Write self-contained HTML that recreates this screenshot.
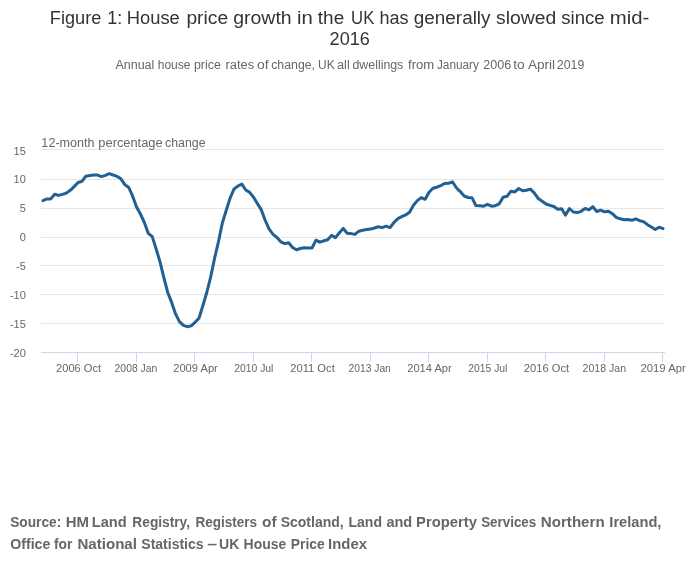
<!DOCTYPE html>
<html><head><meta charset="utf-8"><style>
html,body{margin:0;padding:0;background:#fff;width:700px;height:574px;overflow:hidden}
svg{display:block;font-family:"Liberation Sans", sans-serif;will-change:transform}
</style></head><body>
<svg width="700" height="574" viewBox="0 0 700 574">
<rect width="700" height="574" fill="#ffffff"/>
<path d="M41 149.5H665" stroke="#e6e6e6" stroke-width="1" fill="none"/>
<path d="M41 179.5H665" stroke="#e6e6e6" stroke-width="1" fill="none"/>
<path d="M41 208.5H665" stroke="#e6e6e6" stroke-width="1" fill="none"/>
<path d="M41 237.5H665" stroke="#e6e6e6" stroke-width="1" fill="none"/>
<path d="M41 265.5H665" stroke="#e6e6e6" stroke-width="1" fill="none"/>
<path d="M41 294.5H665" stroke="#e6e6e6" stroke-width="1" fill="none"/>
<path d="M41 323.5H665" stroke="#e6e6e6" stroke-width="1" fill="none"/>
<path d="M41 352.5H665" stroke="#ccd6eb" stroke-width="1" fill="none"/>
<path d="M77.5 352.5V362" stroke="#ccd6eb" stroke-width="1" fill="none"/>
<path d="M136.5 352.5V362" stroke="#ccd6eb" stroke-width="1" fill="none"/>
<path d="M194.5 352.5V362" stroke="#ccd6eb" stroke-width="1" fill="none"/>
<path d="M253.5 352.5V362" stroke="#ccd6eb" stroke-width="1" fill="none"/>
<path d="M311.5 352.5V362" stroke="#ccd6eb" stroke-width="1" fill="none"/>
<path d="M370.5 352.5V362" stroke="#ccd6eb" stroke-width="1" fill="none"/>
<path d="M428.5 352.5V362" stroke="#ccd6eb" stroke-width="1" fill="none"/>
<path d="M487.5 352.5V362" stroke="#ccd6eb" stroke-width="1" fill="none"/>
<path d="M545.5 352.5V362" stroke="#ccd6eb" stroke-width="1" fill="none"/>
<path d="M604.5 352.5V362" stroke="#ccd6eb" stroke-width="1" fill="none"/>
<path d="M662.5 352.5V362" stroke="#ccd6eb" stroke-width="1" fill="none"/>
<text id="title1_w0" x="49.82" y="24" font-size="18" fill="#333333" textLength="51.48" lengthAdjust="spacingAndGlyphs">Figure</text>
<text id="title1_w1" x="107.15" y="24" font-size="18" fill="#333333" textLength="15.02" lengthAdjust="spacingAndGlyphs">1:</text>
<text id="title1_w2" x="126.85" y="24" font-size="18" fill="#333333" textLength="52.93" lengthAdjust="spacingAndGlyphs">House</text>
<text id="title1_w3" x="186.40" y="24" font-size="18" fill="#333333" textLength="41.72" lengthAdjust="spacingAndGlyphs">price</text>
<text id="title1_w4" x="233.15" y="24" font-size="18" fill="#333333" textLength="58.53" lengthAdjust="spacingAndGlyphs">growth</text>
<text id="title1_w5" x="297.10" y="24" font-size="18" fill="#333333" textLength="15.82" lengthAdjust="spacingAndGlyphs">in</text>
<text id="title1_w6" x="317.82" y="24" font-size="18" fill="#333333" textLength="26.38" lengthAdjust="spacingAndGlyphs">the</text>
<text id="title1_w7" x="351.10" y="24" font-size="18" fill="#333333" textLength="23.22" lengthAdjust="spacingAndGlyphs">UK</text>
<text id="title1_w8" x="379.50" y="24" font-size="18" fill="#333333" textLength="29.03" lengthAdjust="spacingAndGlyphs">has</text>
<text id="title1_w9" x="413.85" y="24" font-size="18" fill="#333333" textLength="76.65" lengthAdjust="spacingAndGlyphs">generally</text>
<text id="title1_w10" x="496.12" y="24" font-size="18" fill="#333333" textLength="60.08" lengthAdjust="spacingAndGlyphs">slowed</text>
<text id="title1_w11" x="561.22" y="24" font-size="18" fill="#333333" textLength="43.38" lengthAdjust="spacingAndGlyphs">since</text>
<text id="title1_w12" x="609.80" y="24" font-size="18" fill="#333333" textLength="39.50" lengthAdjust="spacingAndGlyphs">mid-</text>
<text id="title2" x="329.60" y="44.7" font-size="18" fill="#333333" textLength="40.26" lengthAdjust="spacingAndGlyphs">2016</text>
<text id="subtitle_w0" x="115.48" y="68.9" font-size="12" fill="#666666" textLength="38.82" lengthAdjust="spacingAndGlyphs">Annual</text>
<text id="subtitle_w1" x="157.76" y="68.9" font-size="12" fill="#666666" textLength="32.70" lengthAdjust="spacingAndGlyphs">house</text>
<text id="subtitle_w2" x="193.97" y="68.9" font-size="12" fill="#666666" textLength="26.92" lengthAdjust="spacingAndGlyphs">price</text>
<text id="subtitle_w3" x="225.43" y="68.9" font-size="12" fill="#666666" textLength="28.67" lengthAdjust="spacingAndGlyphs">rates</text>
<text id="subtitle_w4" x="256.91" y="68.9" font-size="12" fill="#666666" textLength="11.64" lengthAdjust="spacingAndGlyphs">of</text>
<text id="subtitle_w5" x="271.22" y="68.9" font-size="12" fill="#666666" textLength="43.78" lengthAdjust="spacingAndGlyphs">change,</text>
<text id="subtitle_w6" x="318.10" y="68.9" font-size="12" fill="#666666" textLength="16.67" lengthAdjust="spacingAndGlyphs">UK</text>
<text id="subtitle_w7" x="337.04" y="68.9" font-size="12" fill="#666666" textLength="12.74" lengthAdjust="spacingAndGlyphs">all</text>
<text id="subtitle_w8" x="352.50" y="68.9" font-size="12" fill="#666666" textLength="50.80" lengthAdjust="spacingAndGlyphs">dwellings</text>
<text id="subtitle_w9" x="408.10" y="68.9" font-size="12" fill="#666666" textLength="26.16" lengthAdjust="spacingAndGlyphs">from</text>
<text id="subtitle_w10" x="436.98" y="68.9" font-size="12" fill="#666666" textLength="41.98" lengthAdjust="spacingAndGlyphs">January</text>
<text id="subtitle_w11" x="483.31" y="68.9" font-size="12" fill="#666666" textLength="27.96" lengthAdjust="spacingAndGlyphs">2006</text>
<text id="subtitle_w12" x="513.16" y="68.9" font-size="12" fill="#666666" textLength="11.46" lengthAdjust="spacingAndGlyphs">to</text>
<text id="subtitle_w13" x="527.90" y="68.9" font-size="12" fill="#666666" textLength="27.26" lengthAdjust="spacingAndGlyphs">April</text>
<text id="subtitle_w14" x="556.88" y="68.9" font-size="12" fill="#666666" textLength="27.42" lengthAdjust="spacingAndGlyphs">2019</text>
<text id="ytitle_w0" x="41.38" y="146.9" font-size="12" fill="#666666" textLength="53.22" lengthAdjust="spacingAndGlyphs">12-month</text>
<text id="ytitle_w1" x="98.37" y="146.9" font-size="12" fill="#666666" textLength="64.19" lengthAdjust="spacingAndGlyphs">percentage</text>
<text id="ytitle_w2" x="165.06" y="146.9" font-size="12" fill="#666666" textLength="40.46" lengthAdjust="spacingAndGlyphs">change</text>
<text id="y15" x="25.80" y="154.5" font-size="11" fill="#666666" text-anchor="end">15</text>
<text id="y10" x="25.80" y="182.5" font-size="11" fill="#666666" text-anchor="end">10</text>
<text id="y5" x="25.80" y="211.5" font-size="11" fill="#666666" text-anchor="end">5</text>
<text id="y0" x="25.80" y="240.5" font-size="11" fill="#666666" text-anchor="end">0</text>
<text id="y-5" x="25.80" y="269.5" font-size="11" fill="#666666" text-anchor="end">-5</text>
<text id="y-10" x="25.80" y="298.5" font-size="11" fill="#666666" text-anchor="end">-10</text>
<text id="y-15" x="25.80" y="327.5" font-size="11" fill="#666666" text-anchor="end">-15</text>
<text id="y-20" x="25.80" y="356.5" font-size="11" fill="#666666" text-anchor="end">-20</text>
<text id="x2006_Oct" x="78.59" y="371.7" font-size="11" fill="#666666" text-anchor="middle" textLength="45.00" lengthAdjust="spacingAndGlyphs">2006 Oct</text>
<text id="x2008_Jan" x="135.97" y="371.7" font-size="11" fill="#666666" text-anchor="middle" textLength="42.75" lengthAdjust="spacingAndGlyphs">2008 Jan</text>
<text id="x2009_Apr" x="195.50" y="371.7" font-size="11" fill="#666666" text-anchor="middle" textLength="44.59" lengthAdjust="spacingAndGlyphs">2009 Apr</text>
<text id="x2010_Jul" x="253.82" y="371.7" font-size="11" fill="#666666" text-anchor="middle" textLength="39.16" lengthAdjust="spacingAndGlyphs">2010 Jul</text>
<text id="x2011_Oct" x="312.50" y="371.7" font-size="11" fill="#666666" text-anchor="middle" textLength="44.55" lengthAdjust="spacingAndGlyphs">2011 Oct</text>
<text id="x2013_Jan" x="369.70" y="371.7" font-size="11" fill="#666666" text-anchor="middle" textLength="42.21" lengthAdjust="spacingAndGlyphs">2013 Jan</text>
<text id="x2014_Apr" x="429.46" y="371.7" font-size="11" fill="#666666" text-anchor="middle" textLength="44.50" lengthAdjust="spacingAndGlyphs">2014 Apr</text>
<text id="x2015_Jul" x="487.82" y="371.7" font-size="11" fill="#666666" text-anchor="middle" textLength="39.16" lengthAdjust="spacingAndGlyphs">2015 Jul</text>
<text id="x2016_Oct" x="546.50" y="371.7" font-size="11" fill="#666666" text-anchor="middle" textLength="45.36" lengthAdjust="spacingAndGlyphs">2016 Oct</text>
<text id="x2018_Jan" x="604.33" y="371.7" font-size="11" fill="#666666" text-anchor="middle" textLength="43.47" lengthAdjust="spacingAndGlyphs">2018 Jan</text>
<text id="x2019_Apr" x="663.14" y="371.7" font-size="11" fill="#666666" text-anchor="middle" textLength="45.31" lengthAdjust="spacingAndGlyphs">2019 Apr</text>
<text id="src1_w0" x="10.15" y="526.9" font-size="14" fill="#666666" font-weight="bold" textLength="51.17" lengthAdjust="spacingAndGlyphs">Source:</text>
<text id="src1_w1" x="65.72" y="526.9" font-size="14" fill="#666666" font-weight="bold" textLength="23.25" lengthAdjust="spacingAndGlyphs">HM</text>
<text id="src1_w2" x="91.80" y="526.9" font-size="14" fill="#666666" font-weight="bold" textLength="34.95" lengthAdjust="spacingAndGlyphs">Land</text>
<text id="src1_w3" x="132.35" y="526.9" font-size="14" fill="#666666" font-weight="bold" textLength="57.68" lengthAdjust="spacingAndGlyphs">Registry,</text>
<text id="src1_w4" x="195.50" y="526.9" font-size="14" fill="#666666" font-weight="bold" textLength="61.53" lengthAdjust="spacingAndGlyphs">Registers</text>
<text id="src1_w5" x="262.05" y="526.9" font-size="14" fill="#666666" font-weight="bold" textLength="14.55" lengthAdjust="spacingAndGlyphs">of</text>
<text id="src1_w6" x="280.67" y="526.9" font-size="14" fill="#666666" font-weight="bold" textLength="63.02" lengthAdjust="spacingAndGlyphs">Scotland,</text>
<text id="src1_w7" x="348.43" y="526.9" font-size="14" fill="#666666" font-weight="bold" textLength="33.60" lengthAdjust="spacingAndGlyphs">Land</text>
<text id="src1_w8" x="386.40" y="526.9" font-size="14" fill="#666666" font-weight="bold" textLength="25.82" lengthAdjust="spacingAndGlyphs">and</text>
<text id="src1_w9" x="416.10" y="526.9" font-size="14" fill="#666666" font-weight="bold" textLength="60.93" lengthAdjust="spacingAndGlyphs">Property</text>
<text id="src1_w10" x="481.17" y="526.9" font-size="14" fill="#666666" font-weight="bold" textLength="55.11" lengthAdjust="spacingAndGlyphs">Services</text>
<text id="src1_w11" x="540.88" y="526.9" font-size="14" fill="#666666" font-weight="bold" textLength="63.75" lengthAdjust="spacingAndGlyphs">Northern</text>
<text id="src1_w12" x="609.33" y="526.9" font-size="14" fill="#666666" font-weight="bold" textLength="52.07" lengthAdjust="spacingAndGlyphs">Ireland,</text>
<text id="src2_w0" x="10.25" y="548.7" font-size="14" fill="#666666" font-weight="bold" textLength="40.07" lengthAdjust="spacingAndGlyphs">Office</text>
<text id="src2_w1" x="53.88" y="548.7" font-size="14" fill="#666666" font-weight="bold" textLength="18.45" lengthAdjust="spacingAndGlyphs">for</text>
<text id="src2_w2" x="77.40" y="548.7" font-size="14" fill="#666666" font-weight="bold" textLength="59.57" lengthAdjust="spacingAndGlyphs">National</text>
<text id="src2_w3" x="141.32" y="548.7" font-size="14" fill="#666666" font-weight="bold" textLength="62.28" lengthAdjust="spacingAndGlyphs">Statistics</text>
<text id="src2_w4" x="207.32" y="548.7" font-size="14" fill="#666666" font-weight="bold" textLength="9.77" lengthAdjust="spacingAndGlyphs">–</text>
<text id="src2_w5" x="219.00" y="548.7" font-size="14" fill="#666666" font-weight="bold" textLength="20.40" lengthAdjust="spacingAndGlyphs">UK</text>
<text id="src2_w6" x="243.62" y="548.7" font-size="14" fill="#666666" font-weight="bold" textLength="42.62" lengthAdjust="spacingAndGlyphs">House</text>
<text id="src2_w7" x="290.75" y="548.7" font-size="14" fill="#666666" font-weight="bold" textLength="33.93" lengthAdjust="spacingAndGlyphs">Price</text>
<text id="src2_w8" x="328.10" y="548.7" font-size="14" fill="#666666" font-weight="bold" textLength="38.87" lengthAdjust="spacingAndGlyphs">Index</text>
<polyline points="42.95,200.6 46.85,198.9 50.75,198.9 54.65,194.2 58.55,195.4 62.45,194.4 66.35,193.1 70.25,190.3 74.15,186.6 78.05,182.5 81.95,181.4 85.85,176.2 89.75,175.6 93.65,175.0 97.55,175.1 101.45,176.6 105.35,175.4 109.25,173.7 113.15,175.0 117.05,176.4 120.95,178.8 124.85,184.6 128.75,187.5 132.65,196.2 136.55,207.0 140.45,214.0 144.35,222.5 148.25,233.3 152.15,236.4 156.05,248.6 159.95,261.6 163.85,277.7 167.75,292.5 171.65,302.4 175.55,313.9 179.45,321.7 183.35,325.4 187.25,326.7 191.15,325.9 195.05,322.3 198.95,318.2 202.85,305.7 206.75,292.5 210.65,277.2 214.55,258.4 218.45,241.8 222.35,223.0 226.25,210.2 230.15,198.0 234.05,188.9 237.95,186.0 241.85,184.1 245.75,190.0 249.65,192.4 253.55,197.3 257.45,203.6 261.35,209.9 265.25,220.5 269.15,229.2 273.05,234.4 276.95,237.5 280.85,241.8 284.75,243.6 288.65,242.7 292.55,247.5 296.45,249.7 300.35,248.5 304.25,247.7 308.15,247.9 312.05,248.0 315.95,240.2 319.85,242.2 323.75,240.8 327.65,239.7 331.55,235.4 335.45,237.6 339.35,232.7 343.25,228.4 347.15,233.3 351.05,233.6 354.95,234.4 358.85,231.2 362.75,230.3 366.65,229.6 370.55,229.1 374.45,228.0 378.35,226.8 382.25,227.6 386.15,226.2 390.05,227.6 393.95,222.5 397.85,218.6 401.75,216.6 405.65,214.9 409.55,212.3 413.45,205.3 417.35,200.6 421.25,197.6 425.15,199.3 429.05,192.2 432.95,188.2 436.85,187.2 440.75,185.6 444.65,183.5 448.55,183.3 452.45,181.8 456.35,187.8 460.25,191.6 464.15,196.0 468.05,197.5 471.95,197.7 475.85,205.5 479.75,205.7 483.65,206.2 487.55,204.3 491.45,206.2 495.35,205.7 499.25,203.8 503.15,197.2 507.05,196.3 510.95,191.2 514.85,191.9 518.75,188.5 522.65,190.7 526.55,190.3 530.45,189.1 534.35,193.1 538.25,198.5 542.15,201.3 546.05,204.0 549.95,205.4 553.85,206.5 557.75,209.3 561.65,208.8 565.55,215.1 569.45,208.5 573.35,212.0 577.25,212.6 581.15,211.3 585.05,208.5 588.95,209.7 592.85,206.7 596.75,211.5 600.65,210.2 604.55,211.8 608.45,211.2 612.35,213.7 616.25,217.4 620.15,218.8 624.05,219.8 627.95,219.6 631.85,220.3 635.75,218.9 639.65,220.7 643.55,221.6 647.45,224.7 651.35,227.0 655.25,229.5 659.15,227.2 663.05,228.6" fill="none" stroke="#206095" stroke-width="3" stroke-linejoin="round" stroke-linecap="round"/>
</svg>
</body></html>
